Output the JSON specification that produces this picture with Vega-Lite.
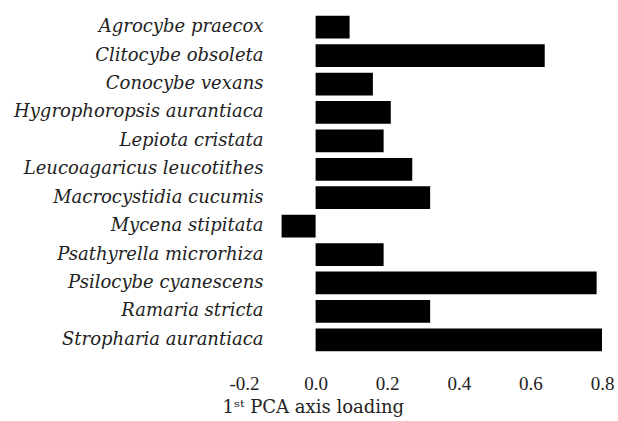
{
  "$schema": "https://vega.github.io/schema/vega-lite/v6.json",
  "autosize": "none",
  "width": 358,
  "height": 341,
  "padding": {"left": 244, "top": 13, "right": 16, "bottom": 67},
  "background": "white",
  "config": {"view": {"stroke": null}},
  "data": {"values": [
    {"species": "Agrocybe praecox", "loading": 0.095},
    {"species": "Clitocybe obsoleta", "loading": 0.64},
    {"species": "Conocybe vexans", "loading": 0.16},
    {"species": "Hygrophoropsis aurantiaca", "loading": 0.21},
    {"species": "Lepiota cristata", "loading": 0.19},
    {"species": "Leucoagaricus leucotithes", "loading": 0.27},
    {"species": "Macrocystidia cucumis", "loading": 0.32},
    {"species": "Mycena stipitata", "loading": -0.095},
    {"species": "Psathyrella microrhiza", "loading": 0.19},
    {"species": "Psilocybe cyanescens", "loading": 0.785},
    {"species": "Ramaria stricta", "loading": 0.32},
    {"species": "Stropharia aurantiaca", "loading": 0.80}
  ]},
  "mark": {"type": "bar", "color": "black"},
  "encoding": {
    "y": {
      "field": "species", "type": "nominal", "sort": null,
      "scale": {"paddingInner": 0.2, "paddingOuter": 0.1},
      "axis": {
        "title": null, "domain": false, "ticks": false, "grid": false,
        "labelPadding": -19, "labelFont": "DejaVu Serif", "labelFontStyle": "italic",
        "labelFontSize": 18, "labelColor": "#222", "labelLimit": 400
      }
    },
    "x": {
      "field": "loading", "type": "quantitative",
      "scale": {"domain": [-0.2, 0.8], "nice": false, "zero": false},
      "axis": {
        "values": [-0.2, 0, 0.2, 0.4, 0.6, 0.8],
        "labelExpr": "replace(format(datum.value, '.1f'), '\u2212', '-')",
        "title": "1ˢᵗ PCA axis loading",
        "domain": false, "ticks": false, "grid": false,
        "labelPadding": 20, "labelFont": "Liberation Serif", "labelFontSize": 19,
        "labelColor": "#222", "labelFlush": false,
        "titleFont": "DejaVu Serif", "titleFontSize": 18, "titleFontWeight": "normal",
        "titleColor": "#222", "titleAnchor": "start", "titleAlign": "left",
        "titleX": -22, "titleY": 58, "titleBaseline": "alphabetic"
      }
    }
  }
}
